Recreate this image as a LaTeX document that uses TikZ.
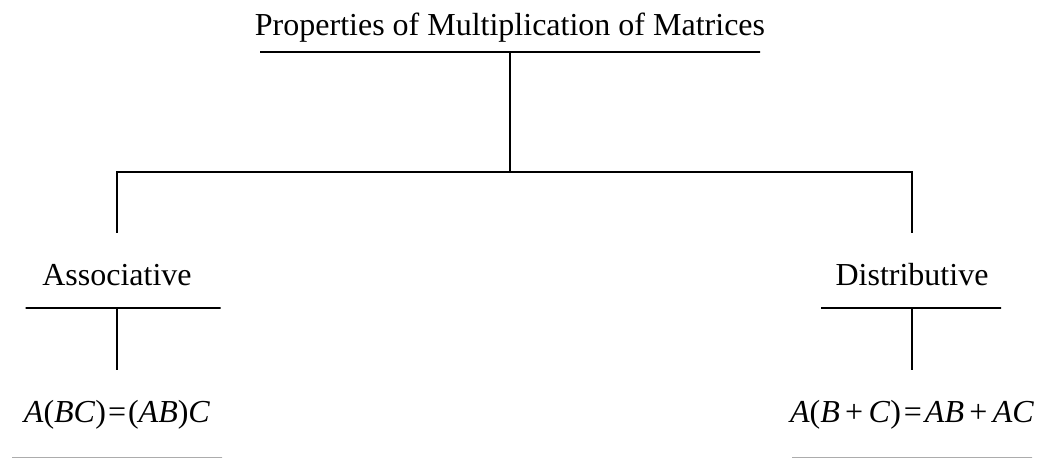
\documentclass[tikz,border=0pt]{standalone}
\usepackage[svgnames]{xcolor}
\usepackage{fontspec}
\setmainfont{Liberation Serif}
\usepackage{tikz}
\colorlet{barLine}{black}
\colorlet{footLine}{Gray}

\begin{document}
\begin{tikzpicture}[
  x=1pt, y=-1pt,
  heading/.style={
    anchor=base,
    font=\fontsize{32}{38}\selectfont,
    text height=19pt,
    inner xsep=0pt,
    inner ysep=33pt,
  },
  bar/.style={
    draw=barLine,
    line width=1.5pt,
    minimum width=#1,
    minimum height=0pt,
    inner sep=0pt,
  },
  foot bar/.style={
    bar=#1,
    draw=footLine,
    line width=1pt,
  },
  branch/.style={
    draw=barLine,
    line width=1.5pt,
  }
]
\useasboundingbox (0,0) rectangle (1045,458);
\node[heading] (title) at (510,35) {Properties of Multiplication of Matrices};
\node[bar=500] (title bar) at (510,52) {};
\coordinate (busL) at (117,172);
\coordinate (busR) at (912,172);
\foreach \nm/\xx/\bx/\word/\law/\wbar/\fbar in {
  assoc/117/123/Associative/{\textit{A}(\textit{BC})\kern2pt=\kern2pt(\textit{AB})\textit{C}}/195/210,
  distr/912/911/Distributive/{\textit{A}(\textit{B}\,+\,\textit{C})\kern3pt=\kern3pt\textit{AB}\,+\,\textit{AC}}/180/240} {
  \node[heading] (\nm) at (\xx,285) {\word};
  \node[bar=\wbar] (\nm bar) at (\bx,308) {};
  \node[heading] (\nm law) at (\xx,422) {\law};
  \node[foot bar=\fbar] (\nm foot) at (\xx,457) {};
  \draw[branch] (\nm bar -| \nm) -- (\nm law);
}
% tree above the two laws
\draw[branch] (title bar) -- (title bar |- busL);
\draw[branch] (assoc) -- (busL) -- (busR) -- (distr);
\end{tikzpicture}
\end{document}
